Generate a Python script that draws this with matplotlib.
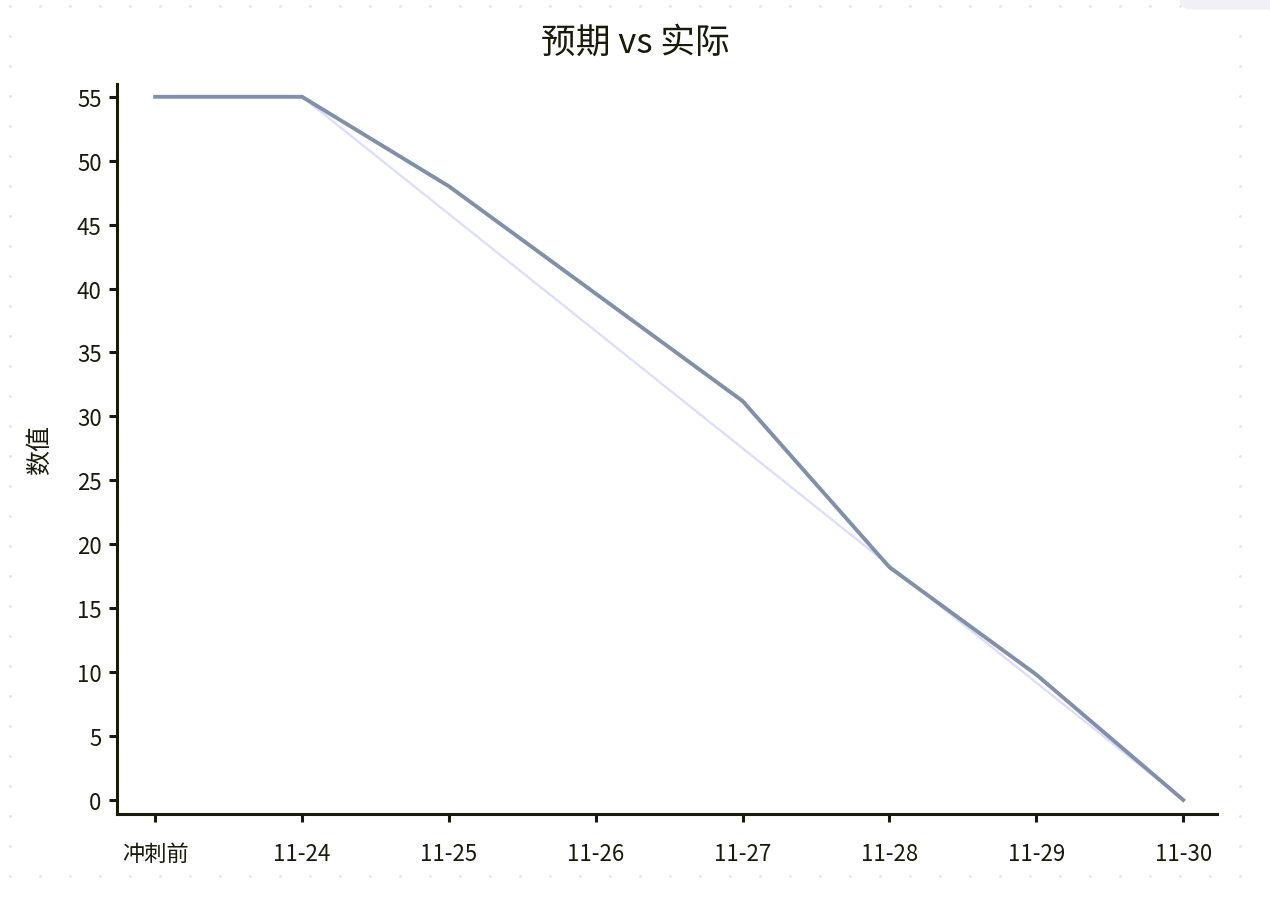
import numpy as np
import matplotlib

matplotlib.use("Agg")
import matplotlib.pyplot as plt  # noqa: E402
from matplotlib.patches import Rectangle, FancyBboxPatch  # noqa: E402

plt.rcParams["font.family"] = ["Noto Sans CJK SC", "DejaVu Sans"]

categories = ["冲刺前", "11-24", "11-25", "11-26", "11-27", "11-28", "11-29", "11-30"]
expected = [55, 55, 45.83, 36.67, 27.5, 18.33, 9.17, 0]
actual = [55, 55, 48, 39.6, 31.2, 18.2, 9.8, 0]

W, H = 1270, 904
INK = "#1a1a0a"
fig = plt.figure(figsize=(W / 100, H / 100), dpi=100)

# dotted page background + white card
bg = fig.add_axes([0, 0, 1, 1], zorder=0)
bg.set_xlim(0, W)
bg.set_ylim(H, 0)
bg.axis("off")
gx, gy = np.meshgrid(np.arange(10, W, 30), np.arange(7, H, 30))
bg.scatter(gx.ravel(), gy.ravel(), s=4, color="#e6e6e6", lw=0)
bg.add_patch(Rectangle((25, 20), 1205, 845, color="white", zorder=2))
bg.add_patch(FancyBboxPatch((1180, -20), 120, 30, boxstyle="round,pad=0,rounding_size=12",
                            color="#f0f1f5", zorder=3))

ax = fig.add_axes([117 / W, 1 - 815 / H, 1100 / W, 730 / H], zorder=1)
ax.set_facecolor("white")
x = np.arange(len(categories))
ax.plot(x, expected, color="#dcdcff", lw=1.6, zorder=2)
ax.plot(x, actual, color="#8090a8", lw=2.8, zorder=3, solid_joinstyle="round")

ax.set_xlim(-0.26, 7.23)
ax.set_ylim(-1.1, 56)
ax.set_xticks(x)
ax.set_xticklabels(categories)
ax.set_yticks(np.arange(0, 56, 5))
for s in ("top", "right"):
    ax.spines[s].set_visible(False)
for s in ("left", "bottom"):
    ax.spines[s].set_linewidth(2.2)
    ax.spines[s].set_color(INK)
ax.tick_params(axis="both", direction="out", length=6, width=2.2, color=INK,
               labelsize=16, labelcolor=INK)
ax.tick_params(axis="x", pad=14)
ax.tick_params(axis="y", pad=5)
ax.set_ylabel("数值", fontsize=18, color=INK)
ax.yaxis.set_label_coords(-0.058, 0.5)
fig.text(0.5, 1 - 43 / H, "预期 vs 实际", ha="center", va="center", fontsize=25, color=INK)

fig.savefig("out.png", dpi=100)
